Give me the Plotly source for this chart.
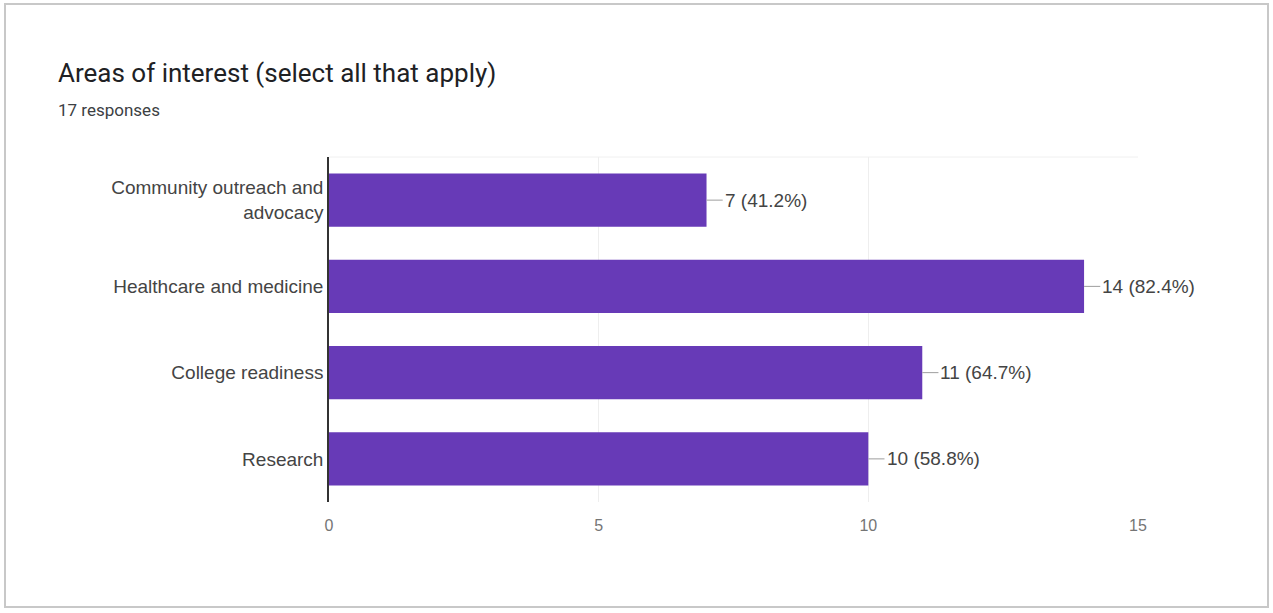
import plotly.graph_objects as go

categories = ["Community outreach and<br>advocacy", "Healthcare and medicine", "College readiness", "Research"]
counts = [7, 14, 11, 10]
total_responses = 17
x_ticks = [0, 5, 10, 15]

title_text = "Areas of interest (select all that apply)"
subtitle_text = f"{total_responses} responses"

labels = [f"{c} ({c / total_responses * 100:.1f}%)" for c in counts]

W, H = 1273, 613
L, R, T, B = 329, 135, 157, 111
pw, ph = W - L - R, H - T - B

def px_x(p):
    return (p - L) / pw

def px_y(p):
    return (H - B - p) / ph

fig = go.Figure()
fig.add_trace(go.Bar(
    x=counts, y=categories, orientation="h",
    marker=dict(color="#673ab7", line=dict(width=0)),
    width=0.62, hoverinfo="skip",
))

lead = 0.3
for c, cat, lab in zip(counts, categories, labels):
    fig.add_shape(type="line", xref="x", yref="y", x0=c, x1=c + lead, y0=cat, y1=cat,
                  line=dict(color="#9e9e9e", width=1))
    fig.add_annotation(x=c + lead, y=cat, xref="x", yref="y", text=lab, showarrow=False,
                       xanchor="left", xshift=0, font=dict(family="Liberation Sans, Arial", size=19, color="#444444"))

# title & subtitle
fig.add_annotation(xref="paper", yref="paper", x=px_x(56), y=px_y(73), text=title_text,
                   showarrow=False, xanchor="left", yanchor="middle",
                   font=dict(family="Roboto, Arial", size=26, color="#202124"))
fig.add_annotation(xref="paper", yref="paper", x=px_x(56), y=px_y(110), text=subtitle_text,
                   showarrow=False, xanchor="left", yanchor="middle",
                   font=dict(family="Roboto, Arial", size=17, color="#3c4043"))

# card border
fig.add_shape(type="rect", xref="paper", yref="paper", layer="below",
              x0=px_x(5), x1=px_x(1268), y0=px_y(607), y1=px_y(4),
              line=dict(color="#c8c8c8", width=2), fillcolor="rgba(0,0,0,0)")
# plot frame top line
fig.add_shape(type="line", xref="paper", yref="paper", x0=0, x1=1, y0=1, y1=1,
              line=dict(color="#f0f0f0", width=1), layer="below")

fig.update_layout(
    width=W, height=H,
    margin=dict(l=L, r=R, t=T, b=B),
    paper_bgcolor="white", plot_bgcolor="white",
    showlegend=False,
    xaxis=dict(range=[0, 15], tickvals=x_ticks, showgrid=True, gridcolor="#eeeeee",
               zeroline=False, showline=False, ticks="", ticklabelstandoff=12,
               tickfont=dict(family="Liberation Sans, Arial", size=16, color="#757575")),
    yaxis=dict(autorange="reversed", showline=True, linecolor="#333333", linewidth=1.5,
               showgrid=False, zeroline=False, ticks="", ticklabelstandoff=0,
               tickfont=dict(family="Liberation Sans, Arial", size=19, color="#444444")),
)

fig.write_html("out.html", config={"displayModeBar": False},
               post_script="document.body.style.margin='0';")
